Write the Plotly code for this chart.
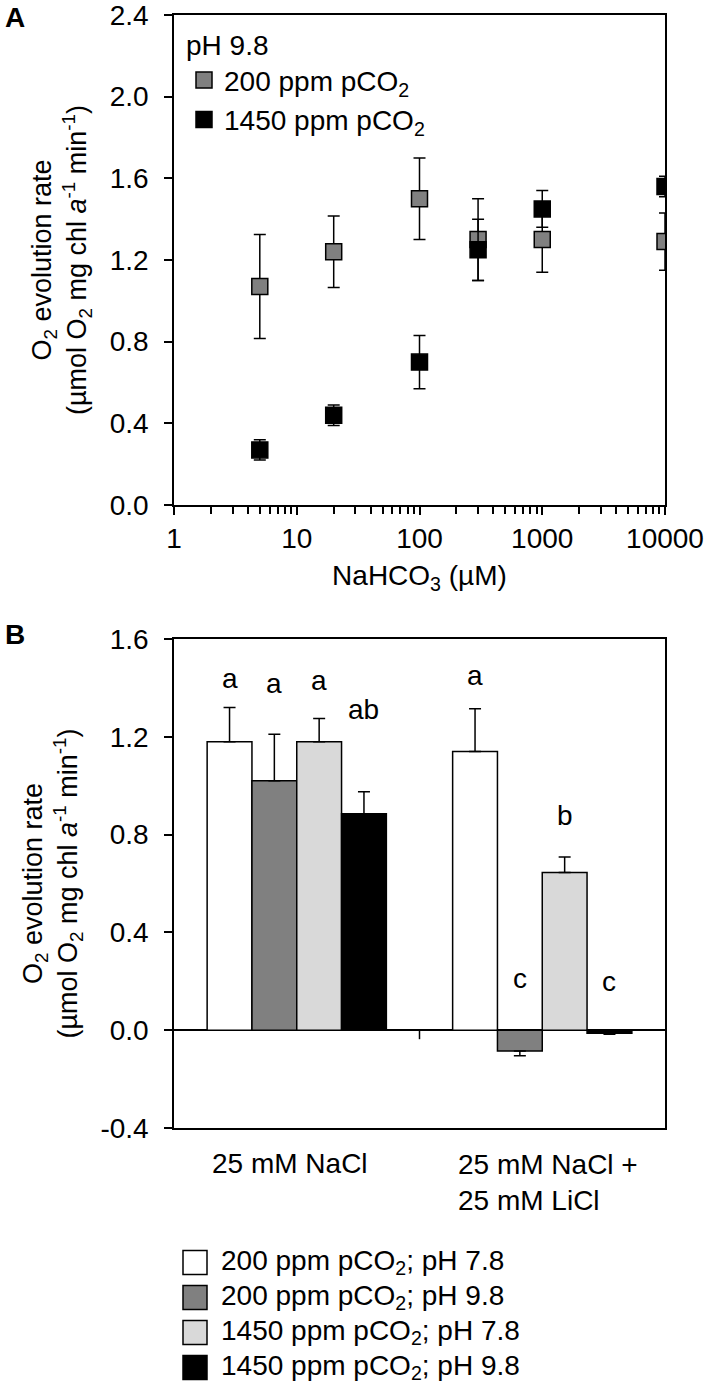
import plotly.graph_objects as go

W, H = 708, 1389
FONT = "Arial, Liberation Sans, sans-serif"
FS = 28
FS_TITLE = 27


def fx(p):
    return p / W


def fy(p):
    return 1 - p / H


# ---------------- Panel A data ----------------
nahco3_uM = [5, 20, 100, 300, 1000, 10000]
rate_200ppm = [1.07, 1.24, 1.50, 1.30, 1.30, 1.29]
err_200ppm = [0.255, 0.175, 0.20, 0.20, 0.16, 0.14]
rate_1450ppm = [0.27, 0.44, 0.70, 1.25, 1.45, 1.56]
err_1450ppm = [0.05, 0.05, 0.13, 0.15, 0.09, 0.05]
seriesA_names = ["200 ppm pCO<sub>2</sub>", "1450 ppm pCO<sub>2</sub>"]
seriesA_colors = ["#808080", "#000000"]
xA_tickvals = [1, 10, 100, 1000, 10000]
xA_ticktext = ["1", "10", "100", "1000", "10000"]
yA_tickvals = [0.0, 0.4, 0.8, 1.2, 1.6, 2.0, 2.4]
yA_ticktext = ["0.0", "0.4", "0.8", "1.2", "1.6", "2.0", "2.4"]

# ---------------- Panel B data ----------------
conditions = ["25 mM NaCl", "25 mM NaCl +<br>25 mM LiCl"]
seriesB_names = ["200 ppm pCO<sub>2</sub>; pH 7.8", "200 ppm pCO<sub>2</sub>; pH 9.8",
                 "1450 ppm pCO<sub>2</sub>; pH 7.8", "1450 ppm pCO<sub>2</sub>; pH 9.8"]
seriesB_colors = ["#FFFFFF", "#808080", "#D9D9D9", "#000000"]
rate_B = [[1.18, 1.14], [1.02, -0.085], [1.18, 0.645], [0.885, -0.012]]
err_B = [[0.14, 0.175], [0.19, 0.02], [0.095, 0.063], [0.09, 0.005]]
letters_B = [["a", "a"], ["a", "c"], ["a", "b"], ["ab", "c"]]
letter_y_B = [[1.44, 1.45], [1.42, 0.21], [1.43, 0.88], [1.31, 0.20]]
yB_tickvals = [-0.4, 0.0, 0.4, 0.8, 1.2, 1.6]
yB_ticktext = ["-0.4", "0.0", "0.4", "0.8", "1.2", "1.6"]

ytitle = "O<sub>2</sub> evolution rate<br>(µmol O<sub>2</sub> mg chl <i>a</i><sup>-1</sup> min<sup>-1</sup>)"

# layout geometry (page pixels)
XL, XR = 174, 665
A_T, A_B = 15, 505
B_T, B_B = 639, 1128
BARGAP = 0.27

fig = go.Figure()

# Panel A traces
for name, col, vals, errs in [(seriesA_names[0], seriesA_colors[0], rate_200ppm, err_200ppm),
                              (seriesA_names[1], seriesA_colors[1], rate_1450ppm, err_1450ppm)]:
    fig.add_trace(go.Scatter(
        x=nahco3_uM, y=vals, mode="markers", name=name,
        marker=dict(symbol="square", size=16, color=col, line=dict(color="black", width=1.5)),
        error_y=dict(type="data", array=errs, color="black", thickness=1.5, width=6),
        xaxis="x", yaxis="y", legend="legend"))

# Panel B bars
for i, (name, col) in enumerate(zip(seriesB_names, seriesB_colors)):
    plus = [e if v >= 0 else 0 for v, e in zip(rate_B[i], err_B[i])]
    minus = [0 if v >= 0 else e for v, e in zip(rate_B[i], err_B[i])]
    fig.add_trace(go.Bar(
        x=conditions, y=rate_B[i], name=name, showlegend=False,
        marker=dict(color=col, line=dict(color="black", width=1.5)),
        error_y=dict(type="data", symmetric=False, array=plus, arrayminus=minus,
                     color="black", thickness=1.5, width=6),
        xaxis="x2", yaxis="y2"))

# Panel B custom legend (larger swatches)
nB = len(seriesB_names)
fig.add_trace(go.Scatter(
    x=[25] * nB, y=list(range(nB)), mode="markers", showlegend=False, hoverinfo="skip",
    marker=dict(symbol="square", size=24, color=seriesB_colors, line=dict(color="black", width=1.5)),
    xaxis="x3", yaxis="y3"))
fig.add_trace(go.Scatter(
    x=[51] * nB, y=list(range(nB)), mode="text", text=seriesB_names, textposition="middle right",
    textfont=dict(family=FONT, size=FS, color="black"), showlegend=False, hoverinfo="skip",
    xaxis="x3", yaxis="y3"))

# letters above bars
plot_w = XR - XL
cat_w = plot_w / len(conditions)
bar_w = cat_w * (1 - BARGAP) / nB
annotations = []
for i in range(nB):
    for j, cond in enumerate(conditions):
        annotations.append(dict(
            x=cond, y=letter_y_B[i][j], xref="x2", yref="y2", text=letters_B[i][j],
            showarrow=False, xshift=(i - (nB - 1) / 2) * bar_w, yanchor="middle",
            font=dict(family=FONT, size=FS, color="black")))

# category labels under panel B
annotations.append(dict(x=conditions[0], y=fy(1163), xref="x2", yref="paper",
                        text=conditions[0], showarrow=False, xshift=-7,
                        xanchor="center", yanchor="middle",
                        font=dict(family=FONT, size=FS, color="black")))
annotations.append(dict(x=conditions[1], y=fy(1182), xref="x2", yref="paper",
                        text=conditions[1], showarrow=False, align="left", xshift=6,
                        xanchor="center", yanchor="middle",
                        font=dict(family=FONT, size=FS, color="black")))

# panel letters
annotations.append(dict(x=fx(15), y=fy(18), xref="paper", yref="paper", text="<b>A</b>",
                        showarrow=False, xanchor="center", yanchor="middle",
                        font=dict(family=FONT, size=FS, color="black")))
annotations.append(dict(x=fx(15), y=fy(634), xref="paper", yref="paper", text="<b>B</b>",
                        showarrow=False, xanchor="center", yanchor="middle",
                        font=dict(family=FONT, size=FS, color="black")))

axis_common = dict(showline=True, linecolor="black", linewidth=1.5, mirror=True,
                   showgrid=False, zeroline=False, ticks="outside", tickcolor="black",
                   tickwidth=1.5, ticklen=8, automargin=False, ticklabeloverflow="allow",
                   tickfont=dict(family=FONT, size=FS, color="black"))

minor_vals = [m * 10 ** k for k in range(4) for m in range(2, 10)]

fig.update_layout(
    width=W, height=H, margin=dict(l=0, r=0, t=0, b=0, autoexpand=False),
    paper_bgcolor="white", plot_bgcolor="white",
    font=dict(family=FONT, size=FS, color="black"),
    barmode="group", bargap=BARGAP, bargroupgap=0,
    xaxis=dict(axis_common, type="log", range=[0, 4], domain=[fx(XL), fx(XR)], anchor="y",
               tickmode="array", tickvals=xA_tickvals, ticktext=xA_ticktext,
               minor=dict(tickmode="array", tickvals=minor_vals, ticks="outside",
                          ticklen=7, tickwidth=1.5, tickcolor="black"),
               title=dict(text="NaHCO<sub>3</sub> (µM)", standoff=12,
                          font=dict(family=FONT, size=FS, color="black"))),
    yaxis=dict(axis_common, range=[0, 2.4], domain=[fy(A_B), fy(A_T)], anchor="x",
               tickmode="array", tickvals=yA_tickvals, ticktext=yA_ticktext,
               ticklabelstandoff=10,
               title=dict(text=ytitle, standoff=15,
                          font=dict(family=FONT, size=FS_TITLE, color="black"))),
    xaxis2=dict(axis_common, type="category", range=[-0.5, 1.5], domain=[fx(XL), fx(XR)],
                anchor="y2", ticks="", showticklabels=False),
    yaxis2=dict(axis_common, range=[-0.4, 1.6], domain=[fy(B_B), fy(B_T)], anchor="x2",
                tickmode="array", tickvals=yB_tickvals, ticktext=yB_ticktext,
                ticklabelstandoff=10,
                zeroline=True, zerolinecolor="black", zerolinewidth=1.5,
                title=dict(text=ytitle, standoff=15,
                           font=dict(family=FONT, size=FS_TITLE, color="black"))),
    xaxis3=dict(domain=[fx(170), fx(700)], range=[0, 530], visible=False, anchor="y3"),
    yaxis3=dict(domain=[fy(1385), fy(1245)], range=[nB - 0.5, -0.5], visible=False, anchor="x3"),
    legend=dict(x=fx(184), y=fy(19), xanchor="left", yanchor="top",
                bgcolor="rgba(0,0,0,0)", borderwidth=0,
                title=dict(text="pH 9.8", font=dict(family=FONT, size=FS, color="black")),
                font=dict(family=FONT, size=FS, color="black"), tracegroupgap=0),
    annotations=annotations,
    shapes=[dict(type="line", xref="x2", yref="y2", x0=0.5, x1=0.5, ysizemode="pixel",
                 yanchor=0, y0=-9, y1=0, line=dict(color="black", width=1.5), layer="above")],
)

# remove the default 8px page margin so the figure fills the window exactly
fig.write_html("out.html", config={"displayModeBar": False},
               post_script="document.body.style.margin='0';document.body.style.overflow='hidden';")
